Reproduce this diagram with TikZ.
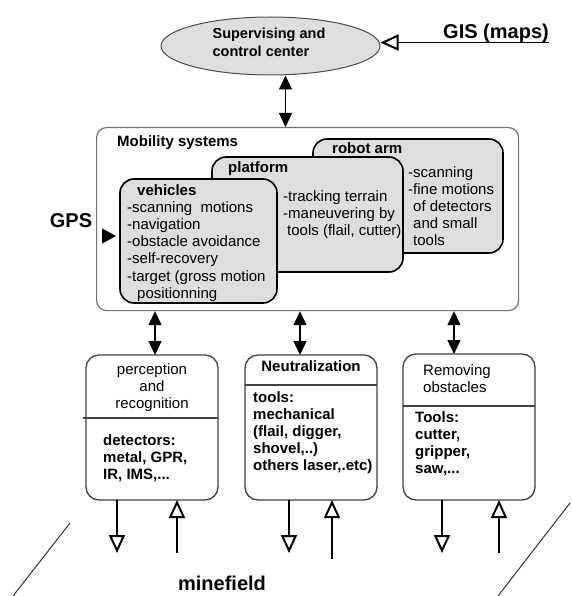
\documentclass[tikz,border=0pt]{standalone}
\usepackage{fontspec}
\setmainfont{Liberation Sans}
\usetikzlibrary{positioning,shapes.geometric,arrows.meta}

\tikzset{
  body/.style={font=\fontsize{15}{17.2}\selectfont},
  boldbody/.style={font=\fontsize{15}{17.2}\selectfont\bfseries},
  bigbold/.style={font=\fontsize{20}{22}\selectfont\bfseries},
  graybox/.style={draw=black, line width=1.6, fill=black!13, rounded corners=14, anchor=north west, outer sep=0pt},
  taskbox/.style={draw=black!75, line width=1.3, rounded corners=13, anchor=north west, outer sep=0pt},
  dblarrow/.style={line width=1.3, {Triangle[length=14pt,width=13pt]}-{Triangle[length=14pt,width=13pt]}},
  openarrow/.style={line width=1.2, -{Triangle[open,length=18pt,width=16pt,line width=2pt]}},
}

\begin{document}
\begin{tikzpicture}[x=1pt,y=-1pt]

\useasboundingbox (0,0) rectangle (571,596);

% Ellipse
\node (sup) [ellipse][draw=black!70, line width=1, fill=black!13] [minimum width=219pt, minimum height=58pt] at (270.5,46) {};
% Text Node
\node (suptxt) [inner sep=0pt] [align=left] [font=\fontsize{14.5}{18.5}\selectfont\bfseries] at (269,42.5) {Supervising and\\control center};

% Text Node
\node (gis) [bigbold][inner sep=0pt] at (496,33) {GIS (maps)};
\draw [openarrow] (gis.south east) -- (gis.south east -| sup.east);

%Rectangles
\node (mob) [anchor=north west][draw=black!55, line width=1.2, rounded corners=10] [minimum width=422pt, minimum height=183pt] at (96,127) {};
\node (robot) [graybox] [minimum width=190pt, minimum height=114pt] at (313,139) {};
\node (plat) [graybox] [minimum width=191pt, minimum height=115pt] at (212,157) {};
\node (veh) [graybox] [minimum width=157pt, minimum height=124pt] at (120,179) {};

% Text Node
\node (mobtitle) [anchor=north west][inner sep=0pt] [boldbody] at (117,135) {Mobility systems};
% Text Node
\node (robottitle) [anchor=north west][inner sep=0pt] [boldbody] at (332,142) {robot arm};
\node (robottxt) [anchor=north west][inner sep=0pt] [body] [align=left] at (408,166) {-scanning\\-fine motions\\\hspace*{5pt}of detectors\\\hspace*{5pt}and small\\\hspace*{5pt}tools};
% Text Node
\node (plattitle) [anchor=north west][inner sep=0pt] [boldbody] at (228,161) {platform};
\node (plattxt) [anchor=north west][inner sep=0pt] [body] [align=left] at (283,190) {-tracking terrain\\-maneuvering by\\\hspace*{4pt}tools (flail, cutter)};
% Text Node
\node (vehtxt) [anchor=north west][inner sep=0pt] [body] [align=left] at (127,184) {\hspace*{10pt}\textbf{vehicles}\\-scanning\ \ motions\\-navigation\\-obstacle avoidance\\-self-recovery\\-target (gross motion\\\hspace*{10pt}positionning};

% Text Node
\node (gps) [bigbold][inner sep=0pt] at (71,221) {GPS};
\draw [line width=1, -{Triangle[length=14pt,width=15pt]}] ([xshift=-18pt,yshift=5pt]veh.west) -- ([xshift=-4pt,yshift=5pt]veh.west);

%Straight Lines
\draw [dblarrow] ([xshift=15pt]sup.south) -- ([xshift=15pt]sup.south |- mob.north);

%Rectangles
\node (perc) [taskbox] [minimum width=132pt, minimum height=145pt] at (86,355) {};
\node (neut) [taskbox] [minimum width=132pt, minimum height=145pt] at (245,355) {};
\node (remv) [taskbox] [minimum width=132pt, minimum height=146pt] at (403,354) {};

%Straight Lines
\draw [line width=1.1, black!75] ([xshift=-3pt,yshift=-63pt]perc.north west) -- ([yshift=-63pt]perc.north east);
\draw [line width=1.1, black!75] ([yshift=-30pt]neut.north west) -- ([yshift=-30pt]neut.north east);
\draw [line width=1.1, black!75] ([yshift=-52pt]remv.north west) -- ([yshift=-52pt]remv.north east);

\draw [dblarrow] ([xshift=3pt]perc.north) -- ([xshift=3pt]perc.north |- mob.south);
\draw [dblarrow] ([xshift=-11pt]neut.north) -- ([xshift=-11pt]neut.north |- mob.south);
\draw [dblarrow] ([xshift=-15pt]remv.north) -- ([xshift=-15pt]remv.north |- mob.south);

% Text Node
\node (perctitle) [anchor=north][inner sep=0pt] [body] [align=center] at (152,363) {perception\\and\\recognition};
\node (perctxt) [anchor=north west][inner sep=0pt] [boldbody] [align=left] at (103,434) {detectors:\\metal, GPR,\\IR, IMS,...};
% Text Node
\node (neuttitle) [anchor=north][inner sep=0pt] [boldbody] at (311,360) {Neutralization};
\node (neuttxt) [anchor=north west][inner sep=0pt] [boldbody] [align=left] at (253,391) {tools:\\mechanical\\(flail, digger,\\shovel,..)\\others laser,.etc)};
% Text Node
\node (remvtitle) [anchor=north west][inner sep=0pt] [body] [align=left] at (423,364) {Removing\\obstacles};
\node (remvtxt) [anchor=north west][inner sep=0pt] [boldbody] [align=left] at (415,411) {Tools:\\cutter,\\gripper,\\saw,...};

% minefield
\coordinate (percdown) at ([xshift=-35pt,yshift=-53pt]perc.south);
\coordinate (percup) at ([xshift=25pt,yshift=-53pt]perc.south);
\coordinate (neutdown) at ([xshift=-22pt,yshift=-53pt]neut.south);
\coordinate (neutup) at ([xshift=21pt,yshift=-59pt]neut.south);
\coordinate (remvdown) at ([xshift=-27pt,yshift=-53pt]remv.south);
\coordinate (remvup) at ([xshift=30pt,yshift=-53pt]remv.south);

\draw [openarrow] (percdown |- perc.south) -- (percdown);
\draw [openarrow] (percup) -- (percup |- perc.south);
\draw [openarrow] (neutdown |- neut.south) -- (neutdown);
\draw [openarrow] (neutup) -- (neutup |- neut.south);
\draw [openarrow] (remvdown |- remv.south) -- (remvdown);
\draw [openarrow] (remvup) -- (remvup |- remv.south);

\draw [line width=1, black!80] (70,523) -- (13,596);
\draw [line width=1, black!80] (570,503) -- (498,596);

% Text Node
\node (mine) [bigbold][inner sep=0pt] at (222,583) {minefield};

\end{tikzpicture}
\end{document}
